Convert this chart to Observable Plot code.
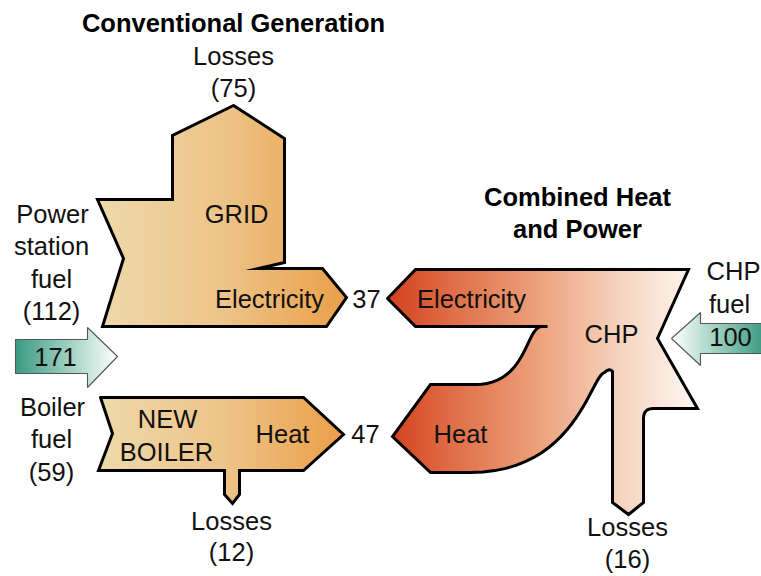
<!DOCTYPE html>
<html><head><meta charset="utf-8">
<script src="https://cdn.jsdelivr.net/npm/d3@7"></script>
<script src="https://cdn.jsdelivr.net/npm/@observablehq/plot@0.6"></script>
<style>html,body{margin:0;padding:0;background:#fff;overflow:hidden}</style>
</head><body><div id="chart"></div>
<script>
// ---------------- data (energy units) ----------------
const conventionalInputNames = ["Power station fuel", "Boiler fuel"];
const conventionalInputValues = [112, 59];
const conventionalTotal = 171;
const conventionalLossValues = [75, 12];      // grid, new boiler
const outputNames = ["Electricity", "Heat"];
const outputValues = [37, 47];
const chpFuelValue = 100;
const chpLossValue = 16;
const sectionTitles = ["Conventional Generation", "Combined Heat", "and Power"];
const nodeNames = ["GRID", "NEW", "BOILER", "CHP"];

// ---------------- diagram geometry (layout) ----------------
function cubic(p0, c1, c2, p3, n = 24) {
  const out = [];
  for (let i = 1; i <= n; i++) {
    const t = i / n, u = 1 - t;
    out.push([
      u*u*u*p0[0] + 3*u*u*t*c1[0] + 3*u*t*t*c2[0] + t*t*t*p3[0],
      u*u*u*p0[1] + 3*u*u*t*c1[1] + 3*u*t*t*c2[1] + t*t*t*p3[1]
    ]);
  }
  return out;
}
function quad(p0, c, p2, n = 8) { return cubic(p0, [p0[0]+2/3*(c[0]-p0[0]), p0[1]+2/3*(c[1]-p0[1])], [p2[0]+2/3*(c[0]-p2[0]), p2[1]+2/3*(c[1]-p2[1])], p2, n); }

const gridOutline = [[233,105],[284,138],[284,262],[258,268],[322,268],[346,297],[326,326],[102,326],[123,258],[97,199],[172,199],[172,135]];
const boilerOutline = [[100,397],[303,397],[343,434],[303,470],[239,470],[239,494],[232,503],[224,494],[224,470],[98,470],[112,433]];
const fuelArrowLeft = [[15,339],[87,339],[87,327],[117,356],[87,387],[87,373],[15,373]];
const fuelArrowRight = [[764,323],[700,323],[700,312],[671,338],[700,365],[700,353],[764,353]];
const chpOutline = [
  [387,298],[415,269],[688,269],[657,338],[697,408],[653,408],
  ...quad([653,408],[643,408],[643,418]),
  [643,502],[628,514],[612,502],[612,371],
  ...quad([612,371],[609,367],[604,372],4),
  ...cubic([604,372],[590,376],[575,472],[470,472]),
  [430,472],[392,436],[430,384],[475,384],
  ...cubic([475,384],[525,384],[525,330],[540,326]),
  [547,326],[415,326]
];
function close(pts, id) { return [...pts, pts[0]].map(([x, y]) => ({x, y, id})); }

// ---------------- labels ----------------
const L = (t, x, y, extra = {}) => ({t, x, y, ...extra});
const labels = [
  L(sectionTitles[0], 233, 31, {b: true}),
  L("Losses", 233, 64), L(`(${conventionalLossValues[0]})`, 233, 96),
  L("Power", 52, 222), L("station", 51, 254), L("fuel", 51, 287), L(`(${conventionalInputValues[0]})`, 51, 319),
  L(nodeNames[0], 236, 222),
  L(outputNames[0], 269, 307),
  L(String(outputValues[0]), 366, 307),
  L(String(conventionalTotal), 55, 365),
  L("Boiler", 52, 415), L("fuel", 51, 447), L(`(${conventionalInputValues[1]})`, 51, 480),
  L(nodeNames[1], 167, 427), L(nodeNames[2], 166, 460),
  L(outputNames[1], 282, 442),
  L(String(outputValues[1]), 365, 442),
  L("Losses", 231, 529), L(`(${conventionalLossValues[1]})`, 231, 560),
  L(sectionTitles[1], 577, 205, {b: true}), L(sectionTitles[2], 577, 237, {b: true}),
  L(outputNames[0], 471, 307),
  L(nodeNames[3], 611, 342),
  L("CHP", 733, 279), L("fuel", 729, 312), L(String(chpFuelValue), 730, 345),
  L(outputNames[1], 460, 442),
  L("Losses", 627, 535), L(`(${chpLossValue})`, 627, 567)
];

const font = "'Liberation Sans', Arial, Helvetica, sans-serif";
const shapeStyle = {x: "x", y: "y", z: "id", stroke: "#000", strokeWidth: 3, strokeLinejoin: "miter", strokeMiterlimit: 10, curve: "linear"};
const arrowStyle = {x: "x", y: "y", z: "id", stroke: "#555", strokeWidth: 1.1, strokeLinejoin: "miter", curve: "linear"};

const chart = Plot.plot({
  width: 761, height: 576, margin: 0,
  x: {domain: [0, 761], range: [0, 761], axis: null},
  y: {domain: [0, 576], range: [0, 576], axis: null},
  style: {background: "#fff", fontFamily: font, overflow: "hidden"},
  marks: [
    Plot.line(close(gridOutline, "grid"), {...shapeStyle, fill: "url(#gOrange)"}),
    Plot.line(close(boilerOutline, "boiler"), {...shapeStyle, fill: "url(#gOrange)"}),
    Plot.line(close(chpOutline, "chp"), {...shapeStyle, fill: "url(#gRed)"}),
    Plot.line(close(fuelArrowLeft, "fa"), {...arrowStyle, fill: "url(#gTealL)"}),
    Plot.line(close(fuelArrowRight, "fb"), {...arrowStyle, fill: "url(#gTealR)"}),
    Plot.text(labels.filter(d => !d.b), {x: "x", y: "y", text: "t", lineAnchor: "bottom", fontSize: 25.5, fill: "#111"}),
    Plot.text(labels.filter(d => d.b), {x: "x", y: "y", text: "t", lineAnchor: "bottom", fontSize: 25.5, fontWeight: "bold", fill: "#000"})
  ]
});

const defs = d3.select(chart).insert("defs", ":first-child");
function grad(id, stops) {
  const g = defs.append("linearGradient").attr("id", id).attr("x1", 0).attr("x2", 1).attr("y1", 0).attr("y2", 0);
  stops.forEach(([o, c]) => g.append("stop").attr("offset", o).attr("stop-color", c));
}
grad("gOrange", [[0, "#eed9ab"], [0.5, "#edc489"], [1, "#eb9f48"]]);
grad("gRed", [[0, "#d2401e"], [0.2, "#df6c45"], [0.5, "#eda47f"], [0.75, "#f6d3bf"], [1, "#fff8f4"]]);
grad("gTealL", [[0, "#3a9a80"], [0.55, "#a5d3c5"], [1, "#ffffff"]]);
grad("gTealR", [[0, "#ffffff"], [0.45, "#a5d3c5"], [1, "#3a9a80"]]);

document.getElementById("chart").appendChild(chart);
</script>
</body></html>
